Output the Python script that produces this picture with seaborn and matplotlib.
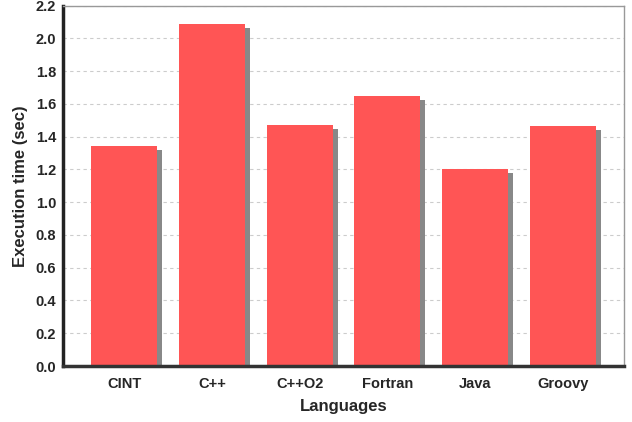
import matplotlib
matplotlib.use("Agg")
import matplotlib.pyplot as plt
import matplotlib.transforms as mtransforms
import seaborn as sns
import pandas as pd

languages = ["CINT", "C++", "C++O2", "Fortran", "Java", "Groovy"]
exec_time = [1.34, 2.09, 1.47, 1.645, 1.205, 1.465]
yticks = [0.0, 0.2, 0.4, 0.6, 0.8, 1.0, 1.2, 1.4, 1.6, 1.8, 2.0, 2.2]

df = pd.DataFrame({"Languages": languages, "Time": exec_time})

sns.set_style("white")
plt.rcParams["font.family"] = ["Liberation Sans", "DejaVu Sans"]
plt.rcParams["font.weight"] = "bold"

fig = plt.figure(figsize=(6.32, 4.22), dpi=100)
ax = fig.add_axes([63/632, 56/422, (624-63)/632, (366-5.5)/422])

# shadow bars
sns.barplot(data=df, x="Languages", y="Time", color="#888888", width=0.75,
            saturation=1, ax=ax, zorder=2)
shadow_patches = list(ax.patches)
shadow_tr = mtransforms.offset_copy(ax.transData, fig=fig, x=5, y=-4, units="dots")
for p in shadow_patches:
    p.set_transform(shadow_tr)
    p.set_edgecolor("none")

sns.barplot(data=df, x="Languages", y="Time", color="#ff5555", width=0.75,
            saturation=1, ax=ax, zorder=3)
for p in ax.patches[len(shadow_patches):]:
    p.set_edgecolor("none")

ax.set_xlim(-0.7, 5.7)
ax.set_ylim(0, 2.2)
ax.set_yticks(yticks)
ax.set_yticklabels([f"{v:.1f}" for v in yticks], fontsize=10.5, fontweight="bold")
ax.set_xticklabels(languages, fontsize=10.5, fontweight="bold")
ax.yaxis.grid(True, linestyle=(0, (3, 3)), color="#cccccc", linewidth=0.8, zorder=0)
ax.set_axisbelow(True)

for s in ["top", "right"]:
    ax.spines[s].set_color("#999999")
    ax.spines[s].set_linewidth(1.0)
ax.spines["left"].set_color("#222222")
ax.spines["left"].set_linewidth(2.5)
ax.spines["bottom"].set_color("#333333")
ax.spines["bottom"].set_linewidth(2.5)
ax.spines["bottom"].set_zorder(5)

ax.tick_params(axis="x", direction="in", length=3, color="#bbbbbb", pad=8)
ax.tick_params(axis="y", length=0, pad=5)

ax.set_xlabel("Languages", fontsize=12, fontweight="bold", labelpad=6)
ax.set_ylabel("Execution time (sec)", fontsize=12, fontweight="bold", labelpad=5)

fig.savefig("out.png", dpi=100)
